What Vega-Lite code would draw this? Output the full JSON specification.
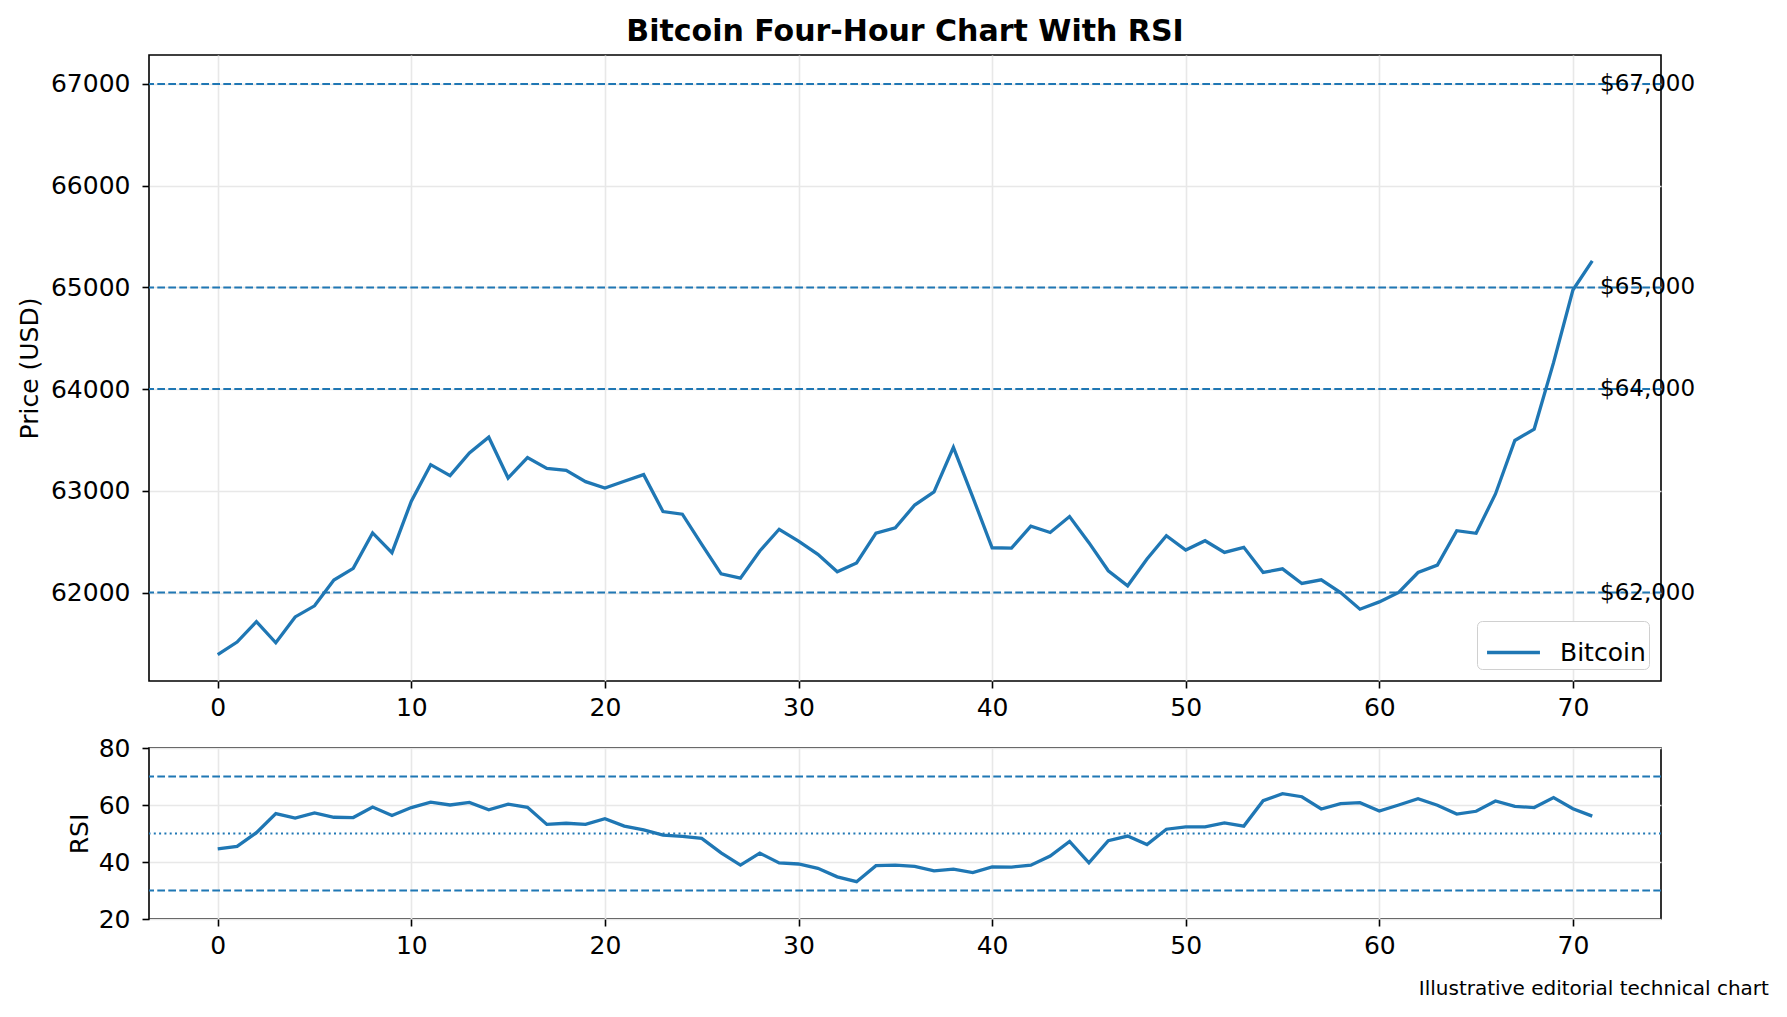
{
  "$schema": "https://vega.github.io/schema/vega-lite/v6.json",
  "background": "white",
  "padding": {"left": 16, "top": 16, "right": 0, "bottom": 0},
  "datasets": {
    "btc": [
      {"i": 0, "price": 61390, "rsi": 44.6}, {"i": 1, "price": 61513, "rsi": 45.5},
      {"i": 2, "price": 61714, "rsi": 50.3}, {"i": 3, "price": 61506, "rsi": 57.0},
      {"i": 4, "price": 61760, "rsi": 55.4}, {"i": 5, "price": 61869, "rsi": 57.2},
      {"i": 6, "price": 62122, "rsi": 55.7}, {"i": 7, "price": 62237, "rsi": 55.6},
      {"i": 8, "price": 62586, "rsi": 59.3}, {"i": 9, "price": 62392, "rsi": 56.3},
      {"i": 10, "price": 62898, "rsi": 59.1}, {"i": 11, "price": 63257, "rsi": 61.0},
      {"i": 12, "price": 63149, "rsi": 60.0}, {"i": 13, "price": 63372, "rsi": 60.9},
      {"i": 14, "price": 63527, "rsi": 58.3}, {"i": 15, "price": 63126, "rsi": 60.3},
      {"i": 16, "price": 63327, "rsi": 59.2}, {"i": 17, "price": 63221, "rsi": 53.2},
      {"i": 18, "price": 63201, "rsi": 53.6}, {"i": 19, "price": 63090, "rsi": 53.2},
      {"i": 20, "price": 63028, "rsi": 55.2}, {"i": 21, "price": 63094, "rsi": 52.6},
      {"i": 22, "price": 63159, "rsi": 51.3}, {"i": 23, "price": 62796, "rsi": 49.4},
      {"i": 24, "price": 62770, "rsi": 49.0}, {"i": 25, "price": 62474, "rsi": 48.3},
      {"i": 26, "price": 62184, "rsi": 43.2}, {"i": 27, "price": 62141, "rsi": 38.9},
      {"i": 28, "price": 62408, "rsi": 43.1}, {"i": 29, "price": 62622, "rsi": 39.7},
      {"i": 30, "price": 62506, "rsi": 39.3}, {"i": 31, "price": 62375, "rsi": 37.8},
      {"i": 32, "price": 62204, "rsi": 34.8}, {"i": 33, "price": 62290, "rsi": 33.1},
      {"i": 34, "price": 62583, "rsi": 38.7}, {"i": 35, "price": 62636, "rsi": 38.9},
      {"i": 36, "price": 62860, "rsi": 38.5}, {"i": 37, "price": 62989, "rsi": 36.9},
      {"i": 38, "price": 63428, "rsi": 37.5}, {"i": 39, "price": 62938, "rsi": 36.3},
      {"i": 40, "price": 62440, "rsi": 38.3}, {"i": 41, "price": 62436, "rsi": 38.2},
      {"i": 42, "price": 62653, "rsi": 38.9}, {"i": 43, "price": 62590, "rsi": 42.1},
      {"i": 44, "price": 62747, "rsi": 47.2}, {"i": 45, "price": 62490, "rsi": 39.7},
      {"i": 46, "price": 62214, "rsi": 47.5}, {"i": 47, "price": 62066, "rsi": 49.1},
      {"i": 48, "price": 62329, "rsi": 46.1}, {"i": 49, "price": 62559, "rsi": 51.5},
      {"i": 50, "price": 62417, "rsi": 52.3}, {"i": 51, "price": 62509, "rsi": 52.3},
      {"i": 52, "price": 62394, "rsi": 53.7}, {"i": 53, "price": 62444, "rsi": 52.6},
      {"i": 54, "price": 62197, "rsi": 61.5}, {"i": 55, "price": 62233, "rsi": 64.0},
      {"i": 56, "price": 62089, "rsi": 62.9}, {"i": 57, "price": 62125, "rsi": 58.6},
      {"i": 58, "price": 62000, "rsi": 60.5}, {"i": 59, "price": 61836, "rsi": 60.8},
      {"i": 60, "price": 61908, "rsi": 57.9}, {"i": 61, "price": 62000, "rsi": 60.0},
      {"i": 62, "price": 62197, "rsi": 62.2}, {"i": 63, "price": 62269, "rsi": 59.9},
      {"i": 64, "price": 62608, "rsi": 56.8}, {"i": 65, "price": 62582, "rsi": 57.8},
      {"i": 66, "price": 62969, "rsi": 61.4}, {"i": 67, "price": 63495, "rsi": 59.5},
      {"i": 68, "price": 63607, "rsi": 59.1}, {"i": 69, "price": 64260, "rsi": 62.6},
      {"i": 70, "price": 64974, "rsi": 58.7}, {"i": 71, "price": 65260, "rsi": 56.1}
    ],
    "priceLevels": [
      {"level": 62000, "label": "$62,000"},
      {"level": 64000, "label": "$64,000"},
      {"level": 65000, "label": "$65,000"},
      {"level": 67000, "label": "$67,000"}
    ],
    "rsiBands": [{"level": 70}, {"level": 30}],
    "rsiMid": [{"level": 50}]
  },
  "title": {
    "text": "Illustrative editorial technical chart",
    "orient": "bottom",
    "anchor": "end",
    "fontSize": 20,
    "fontWeight": "normal",
    "offset": 20,
    "dx": 73
  },
  "config": {
    "font": "DejaVu Sans",
    "view": {"stroke": "black", "strokeWidth": 1.6},
    "title": {"color": "black"},
    "axis": {
      "domain": false,
      "tickColor": "black",
      "tickSize": 7,
      "tickWidth": 1.6,
      "labelColor": "black",
      "labelFontSize": 25,
      "titleColor": "black",
      "titleFontSize": 25,
      "titleFontWeight": "normal",
      "gridColor": "#e8e8e8",
      "gridWidth": 1.6
    },
    "axisX": {"labelPadding": 7},
    "axisY": {"labelPadding": 12},
    "legend": {
      "labelColor": "black",
      "labelFontSize": 25
    }
  },
  "resolve": {"scale": {"color": "independent"}, "legend": {"color": "independent"}},
  "spacing": 14,
  "vconcat": [
    {
      "width": 1512,
      "height": 626,
      "title": {
        "text": "Bitcoin Four-Hour Chart With RSI",
        "fontSize": 30,
        "fontWeight": "bold",
        "anchor": "middle",
        "frame": "group",
        "offset": 8
      },
      "encoding": {
        "x": {
          "type": "quantitative",
          "scale": {"domain": [-3.55, 74.55], "nice": false, "zero": false},
          "axis": {"values": [0, 10, 20, 30, 40, 50, 60, 70], "title": null, "grid": true}
        }
      },
      "layer": [
        {
          "data": {"name": "priceLevels"},
          "mark": {"type": "rule", "color": "#1f77b4", "strokeWidth": 2, "strokeDash": [7.7, 3.3]},
          "encoding": {
            "y": {"field": "level", "type": "quantitative"}
          }
        },
        {
          "data": {"name": "btc"},
          "mark": {"type": "line", "strokeWidth": 3.3},
          "encoding": {
            "x": {"field": "i"},
            "y": {
              "field": "price",
              "type": "quantitative",
              "scale": {"domain": [61130, 67285], "nice": false, "zero": false},
              "axis": {"values": [62000, 63000, 64000, 65000, 66000, 67000], "format": "d", "title": "Price (USD)", "titlePadding": 8, "grid": true}
            },
            "color": {
              "datum": "Bitcoin",
              "type": "nominal",
              "scale": {"range": ["#1f77b4"]},
              "legend": {
                "title": null,
                "orient": "bottom-right",
                "offset": 12,
                "padding": 3,
                "strokeColor": "#d0d0d0",
                "cornerRadius": 5,
                "fillColor": "white",
                "symbolType": "stroke",
                "symbolSize": 2800,
                "symbolStrokeWidth": 3.3,
                "symbolOffset": 5,
                "labelOffset": 18,
                "labelExpr": "datum.label + ' '"
              }
            }
          }
        },
        {
          "data": {"name": "priceLevels"},
          "mark": {"type": "text", "align": "left", "baseline": "middle", "fontSize": 23, "color": "black"},
          "encoding": {
            "x": {"datum": 71.4},
            "y": {"field": "level", "type": "quantitative"},
            "text": {"field": "label"}
          }
        }
      ]
    },
    {
      "width": 1512,
      "height": 171,
      "encoding": {
        "x": {
          "type": "quantitative",
          "scale": {"domain": [-3.55, 74.55], "nice": false, "zero": false},
          "axis": {"values": [0, 10, 20, 30, 40, 50, 60, 70], "title": null, "grid": true}
        }
      },
      "layer": [
        {
          "data": {"name": "rsiBands"},
          "mark": {"type": "rule", "color": "#1f77b4", "strokeWidth": 2, "strokeDash": [7.7, 3.3]},
          "encoding": {
            "y": {"field": "level", "type": "quantitative"}
          }
        },
        {
          "data": {"name": "rsiMid"},
          "mark": {"type": "rule", "color": "#1f77b4", "strokeWidth": 2, "strokeDash": [2, 3.3]},
          "encoding": {
            "y": {"field": "level", "type": "quantitative"}
          }
        },
        {
          "data": {"name": "btc"},
          "mark": {"type": "line", "strokeWidth": 3.3, "color": "#1f77b4"},
          "encoding": {
            "x": {"field": "i"},
            "y": {
              "field": "rsi",
              "type": "quantitative",
              "scale": {"domain": [20, 80], "nice": false, "zero": false},
              "axis": {"values": [20, 40, 60, 80], "title": "RSI", "titlePadding": 6, "grid": true}
            }
          }
        }
      ]
    }
  ]
}
